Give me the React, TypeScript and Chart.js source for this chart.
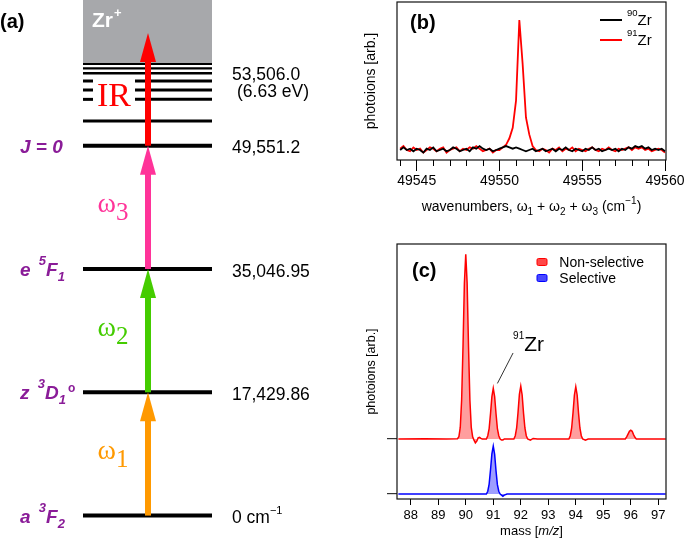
import React, { useEffect, useRef } from 'react';
import { Chart, registerables } from 'chart.js';

Chart.register(...registerables);

const SANS = '"Liberation Sans", Arial, Helvetica, sans-serif';
const SERIF = '"Liberation Serif", "Times New Roman", Times, serif';
const PURPLE = '#8a1c98';
Chart.defaults.font.family = SANS;
Chart.defaults.color = '#000';

/* ---------------- panel (a): schematic energy-level diagram ---------------- */
// schematic (equally spaced) vertical positions of the levels
const levelPositions = [0, 1, 2, 3];
const levelEnergyLabels = ['0', '17,429.86', '35,046.95', '49,551.2'];
const levelNames: [string, string][][] = [
  [['a ', 'n'], ['3', 'sup'], ['F', 'n'], ['2', 'sub']],
  [['z ', 'n'], ['3', 'sup'], ['D', 'n'], ['1', 'sub'], ['o', 'deg']],
  [['e ', 'n'], ['5', 'sup'], ['F', 'n'], ['1', 'sub']],
  [['J = 0', 'n']],
];
const rydbergPositions = [3.2, 3.376, 3.452, 3.525, 3.588, 3.628];
const rydbergBroken = [false, true, true, true, false, false];
const rydbergWidths = [3, 3, 3, 3, 2.5, 2.2];
const ionizationLimit = 3.663;
const ionizationLabels = ['53,506.0', '(6.63 eV)'];
const transitionFrom = [0, 1, 2, 3];
const transitionTo = [1, 2, 3, 3.914];
const transitionColors = ['#ff9900', '#44cc00', '#ff3399', '#ff0000'];
const transitionSubscripts = ['1', '2', '3'];
const irLabelPosition = 3.322;
const diagramRange = [-0.198, 4.182];
const diagramWidth = 340;
const levelSpan = [83, 212];
const arrowX = 148;
const irGap = [93, 135];

/* ---------------- panel (b): spectroscopy scan ---------------- */
const wnStart = 49544.0;
const wnStep = 0.2;
const zr90 = [
  0.00, 0.02, 0.00, 0.01, -0.01, 0.01, 0.00, -0.02, 0.01, 0.00,
  0.02, -0.01, 0.00, 0.01, -0.01, 0.00, 0.02, 0.01, -0.01, 0.00,
  0.01, -0.01, 0.02, 0.01, 0.03, 0.01, 0.00, 0.01, -0.01, 0.00,
  0.01, 0.02, 0.03, 0.02, 0.01, 0.02, 0.01, 0.00, -0.01, 0.00,
  0.01, -0.01, 0.00, 0.01, -0.01, 0.00, 0.01, -0.01, 0.01, 0.00,
  0.02, 0.00, -0.01, 0.01, 0.00, -0.01, 0.01, 0.00, 0.02, 0.00,
  0.01, -0.01, 0.00, 0.01, 0.00, 0.01, -0.01, 0.01, 0.00, 0.02,
  0.01, 0.03, 0.02, 0.03, 0.01, 0.02, 0.00, 0.01, 0.00, 0.01,
  -0.01,
];
const zr91 = [
  0.01, 0.03, 0.00, -0.01, 0.02, 0.00, 0.01, -0.02, 0.00, 0.02,
  0.01, -0.01, 0.01, 0.02, -0.02, 0.00, 0.01, 0.02, -0.01, 0.01,
  0.00, 0.02, 0.01, 0.03, 0.01, -0.01, 0.00, 0.01, -0.02, 0.00,
  0.00, 0.02, 0.04, 0.09, 0.17, 0.38, 1.00, 0.66, 0.25, 0.12,
  0.03, 0.00, -0.01, 0.01, 0.00, -0.02, 0.01, 0.00, 0.02, -0.01,
  0.01, 0.00, 0.02, -0.01, 0.01, 0.00, -0.01, 0.01, 0.02, 0.00,
  -0.01, 0.01, 0.00, 0.02, 0.00, -0.01, 0.01, 0.00, 0.01, 0.02,
  0.00, 0.02, 0.01, 0.02, 0.00, 0.01, -0.01, 0.00, 0.01, 0.00,
  -0.02,
];
const wavenumbers = zr90.map((_, i) => +(wnStart + i * wnStep).toFixed(2));
const wnRange = [49543.81, 49560.06];
const wnMajorStep = 5;
const isotopeLegend = ['90', '91'];
const scanColors = ['#000000', '#ff0000'];

/* ---------------- panel (c): mass spectra ---------------- */
const masses = [
  87.55, 88.5, 89.3, 89.7, 89.75, 89.8, 89.85, 89.9, 89.95, 90.0,
  90.05, 90.1, 90.15, 90.2, 90.25, 90.3, 90.35, 90.4, 90.45, 90.5,
  90.55, 90.6, 90.75, 90.8, 90.85, 90.9, 90.95, 91.0, 91.05, 91.1,
  91.15, 91.2, 91.25, 91.3, 91.35, 91.4, 91.5, 91.75, 91.8, 91.85,
  91.9, 91.95, 92.0, 92.05, 92.1, 92.15, 92.2, 92.25, 92.35, 92.45,
  92.6, 93.75, 93.8, 93.85, 93.9, 93.95, 94.0, 94.05, 94.1, 94.15,
  94.2, 94.25, 94.35, 94.45, 95.8, 95.85, 95.9, 95.95, 96.0, 96.05,
  96.1, 96.15, 96.2, 97.27,
];
const nonSelective = [
  0, 0.005, 0, 0.005, 0.04, 0.21, 0.71, 1.68, 2.83, 3.36,
  2.83, 1.68, 0.71, 0.21, 0.04, -0.02, -0.07, -0.04, 0.02, 0.03,
  0.01, 0, 0, 0.06, 0.19, 0.46, 0.77, 0.92, 0.77, 0.46,
  0.19, 0.06, 0, -0.02, -0.02, 0, 0, 0, 0.06, 0.2,
  0.48, 0.81, 0.96, 0.8, 0.47, 0.2, 0.06, 0, -0.02, 0.01,
  0, 0, 0.06, 0.2, 0.48, 0.8, 0.95, 0.8, 0.47, 0.2,
  0.06, 0, -0.02, 0, 0, 0.04, 0.09, 0.14, 0.16, 0.14,
  0.08, 0.03, 0, 0,
];
const selective = [
  0, 0, 0, 0, 0, 0, 0, 0, 0, 0,
  0, 0, 0, 0, 0, 0, 0, 0, 0, 0,
  0, 0, 0, 0.05, 0.18, 0.44, 0.73, 0.87, 0.72, 0.42,
  0.17, 0.05, 0, -0.02, -0.04, -0.02, 0, 0, 0, 0,
  0, 0, 0, 0, 0, 0, 0, 0, 0, 0,
  0, 0, 0, 0, 0, 0, 0, 0, 0, 0,
  0, 0, 0, 0, 0, 0, 0, 0, 0, 0,
  0, 0, 0, 0,
];
const redOffset = 1.0;
const massRange = [87.5, 97.28];
const spectraYRange = [-0.091, 4.545];
const spectraLegend = ['Non-selective', 'Selective'];
const spectraColors = ['#ff0000', '#0000ff'];
const spectraFills = ['rgba(255,0,0,0.38)', 'rgba(0,0,255,0.38)'];
const annotationAnchor = [91.72, 2.6];
const annotationTarget = [91.15, 2.01];

/* ---------------- helpers ---------------- */
type Seg = { t: string; f: string; dy?: number; dx?: number; c?: string };
function drawRich(ctx: CanvasRenderingContext2D, x: number, y: number, segs: Seg[], align: 'left' | 'center' = 'left', color = '#000') {
  ctx.save();
  ctx.textBaseline = 'alphabetic';
  ctx.textAlign = 'left';
  let w = 0;
  for (const s of segs) {
    ctx.font = s.f;
    w += ctx.measureText(s.t).width + (s.dx || 0);
  }
  let cx = align === 'center' ? x - w / 2 : x;
  for (const s of segs) {
    ctx.font = s.f;
    ctx.fillStyle = s.c || color;
    cx += s.dx || 0;
    ctx.fillText(s.t, cx, y + (s.dy || 0));
    cx += ctx.measureText(s.t).width;
  }
  ctx.restore();
}

function purpleSeg(t: string, k: string): Seg {
  if (k === 'sup') return { t, f: `italic bold 13px ${SANS}`, dy: -11, dx: 3 };
  if (k === 'sub') return { t, f: `italic bold 13px ${SANS}`, dy: 5 };
  if (k === 'deg') return { t, f: `bold 12px ${SANS}`, dy: -7, dx: 2 };
  return { t, f: `italic bold 19px ${SANS}` };
}

function drawFrame(chart: any) {
  const { ctx, chartArea: ca } = chart;
  ctx.save();
  ctx.strokeStyle = '#111';
  ctx.lineWidth = 1.2;
  ctx.strokeRect(ca.left, ca.top, ca.right - ca.left, ca.bottom - ca.top);
  ctx.restore();
}

function seg(x0: number, x1: number, y: number, color: string, width: number, order: number, extra: any = {}) {
  return {
    data: [{ x: x0, y }, { x: x1, y }],
    borderColor: color,
    borderWidth: width,
    pointRadius: 0,
    fill: false,
    borderCapStyle: 'butt',
    order,
    ...extra,
  };
}

/* ---------------- panel (a) ---------------- */
function panelADatasets() {
  const ds: any[] = [];
  const valuePerPx = (diagramRange[1] - diagramRange[0]) / 540;
  transitionFrom.forEach((from, i) => {
    ds.push({
      data: [{ x: arrowX, y: from }, { x: arrowX, y: transitionTo[i] - 26 * valuePerPx }],
      borderColor: transitionColors[i],
      borderWidth: 6,
      pointRadius: 0,
      fill: false,
      borderCapStyle: 'butt',
      order: 0,
    });
  });
  levelPositions.forEach((p) => ds.push(seg(levelSpan[0], levelSpan[1], p, '#000', 4, 1)));
  rydbergPositions.forEach((p, i) => {
    if (rydbergBroken[i]) {
      ds.push(seg(levelSpan[0], irGap[0], p, '#000', rydbergWidths[i], 1));
      ds.push(seg(irGap[1], levelSpan[1], p, '#000', rydbergWidths[i], 1));
    } else {
      ds.push(seg(levelSpan[0], levelSpan[1], p, '#000', rydbergWidths[i], 1));
    }
  });
  ds.push(seg(levelSpan[0], levelSpan[1], ionizationLimit, '#000', 2, 2, { fill: 'end', backgroundColor: '#a7a8ab' }));
  return ds;
}

const panelAPlugin = {
  id: 'panelA',
  afterDatasetsDraw(chart: any) {
    const { ctx, chartArea } = chart;
    const xs = chart.scales.x;
    const ys = chart.scales.y;
    const ax = xs.getPixelForValue(arrowX);
    transitionTo.forEach((to, i) => {
      const tip = ys.getPixelForValue(to);
      ctx.save();
      ctx.fillStyle = transitionColors[i];
      ctx.beginPath();
      ctx.moveTo(ax, tip);
      ctx.lineTo(ax - 8, tip + 29);
      ctx.lineTo(ax + 8, tip + 29);
      ctx.closePath();
      ctx.fill();
      ctx.restore();
    });
    drawRich(ctx, 0, 28, [{ t: '(a)', f: `bold 20px ${SANS}` }]);
    const left = xs.getPixelForValue(levelSpan[0]);
    drawRich(ctx, left + 9, chartArea.top + 27, [
      { t: 'Zr', f: `bold 21px ${SANS}` },
      { t: '+', f: `bold 13px ${SANS}`, dy: -10, dx: 1 },
    ], 'left', '#fff');
    const rx = xs.getPixelForValue(levelSpan[1]) + 20;
    levelPositions.forEach((p, i) => {
      const py = ys.getPixelForValue(p);
      drawRich(ctx, 20, py + 7, levelNames[i].map(([t, k]) => purpleSeg(t, k)), 'left', PURPLE);
      const segs: Seg[] = [{ t: levelEnergyLabels[i], f: `17.5px ${SANS}` }];
      if (i === 0) {
        segs.push({ t: ' cm', f: `17.5px ${SANS}` });
        segs.push({ t: '−1', f: `11px ${SANS}`, dy: -9 });
      }
      drawRich(ctx, rx, py + 7.5, segs);
    });
    const iy = ys.getPixelForValue(ionizationLimit);
    drawRich(ctx, rx, iy + 16, [{ t: ionizationLabels[0], f: `17.5px ${SANS}` }]);
    drawRich(ctx, rx + 5, iy + 33, [{ t: ionizationLabels[1], f: `17.5px ${SANS}` }]);
    transitionSubscripts.forEach((sub, i) => {
      const mid = (ys.getPixelForValue(transitionFrom[i]) + ys.getPixelForValue(transitionTo[i])) / 2;
      drawRich(ctx, ax - 35, mid + 5, [
        { t: 'ω', f: `28px ${SERIF}` },
        { t: sub, f: `25px ${SERIF}`, dy: 8 },
      ], 'center', transitionColors[i]);
    });
    const gx = (xs.getPixelForValue(irGap[0]) + xs.getPixelForValue(irGap[1])) / 2;
    drawRich(ctx, gx, ys.getPixelForValue(irLabelPosition), [{ t: 'IR', f: `34px ${SERIF}` }], 'center', transitionColors[3]);
  },
};

function configA(): any {
  return {
    type: 'line',
    data: { datasets: panelADatasets() },
    options: {
      responsive: false,
      animation: false,
      events: [],
      layout: { padding: 0 },
      plugins: { legend: { display: false }, tooltip: { enabled: false } },
      elements: { point: { radius: 0 }, line: { tension: 0 } },
      scales: {
        x: { type: 'linear', display: false, min: 0, max: diagramWidth },
        y: { type: 'linear', display: false, min: diagramRange[0], max: diagramRange[1] },
      },
    },
    plugins: [panelAPlugin],
  };
}

/* ---------------- panel (b) ---------------- */
const panelBPlugin = {
  id: 'panelB',
  afterDraw(chart: any) {
    const { ctx, chartArea: ca } = chart;
    const xs = chart.scales.x;
    drawFrame(chart);
    ctx.save();
    ctx.strokeStyle = '#000';
    ctx.lineWidth = 1;
    for (let v = Math.ceil(wnRange[0]); v <= wnRange[1]; v += 1) {
      if (v % wnMajorStep === 0) continue;
      const px = Math.round(xs.getPixelForValue(v)) + 0.5;
      ctx.beginPath();
      ctx.moveTo(px, ca.bottom);
      ctx.lineTo(px, ca.bottom + 6);
      ctx.stroke();
    }
    // legend
    isotopeLegend.forEach((iso, i) => {
      const ly = ca.top + 18 + i * 20;
      ctx.strokeStyle = scanColors[i];
      ctx.lineWidth = 2;
      ctx.beginPath();
      ctx.moveTo(ca.right - 66, ly);
      ctx.lineTo(ca.right - 44, ly);
      ctx.stroke();
      drawRich(ctx, ca.right - 39, ly + 5, [
        { t: iso, f: `9.5px ${SANS}`, dy: -9 },
        { t: 'Zr', f: `15px ${SANS}` },
      ]);
    });
    ctx.restore();
    drawRich(ctx, ca.left + 13, 28.5, [{ t: '(b)', f: `bold 20px ${SANS}` }]);
    const f = `14px ${SANS}`;
    const fs = `10px ${SANS}`;
    drawRich(ctx, (ca.left + ca.right) / 2, 211, [
      { t: 'wavenumbers, ω', f },
      { t: '1', f: fs, dy: 4 },
      { t: ' + ω', f },
      { t: '2', f: fs, dy: 4 },
      { t: ' + ω', f },
      { t: '3', f: fs, dy: 4 },
      { t: ' (cm', f },
      { t: '−1', f: fs, dy: -7 },
      { t: ')', f },
    ], 'center');
  },
};

function configB(): any {
  return {
    type: 'line',
    data: {
      datasets: [
        { label: '90Zr', data: wavenumbers.map((x, i) => ({ x, y: zr90[i] })), borderColor: scanColors[0], borderWidth: 1.8 },
        { label: '91Zr', data: wavenumbers.map((x, i) => ({ x, y: zr91[i] })), borderColor: scanColors[1], borderWidth: 1.8 },
      ],
    },
    options: {
      responsive: false,
      animation: false,
      events: [],
      layout: { padding: { top: 2, right: 19, left: 0, bottom: 0 } },
      plugins: { legend: { display: false }, tooltip: { enabled: false } },
      elements: { point: { radius: 0 }, line: { tension: 0 } },
      scales: {
        x: {
          type: 'linear',
          min: wnRange[0],
          max: wnRange[1],
          border: { display: false },
          grid: { drawOnChartArea: false, drawTicks: true, tickLength: 11, color: '#000', tickColor: '#000' },
          ticks: {
            stepSize: wnMajorStep,
            includeBounds: false,
            autoSkip: false,
            maxRotation: 0,
            padding: 2,
            color: '#000',
            font: { family: SANS, size: 14 },
            callback: (v: any) => String(v),
          },
          afterFit: (s: any) => { s.height = 60; s.paddingLeft = 0; s.paddingRight = 0; },
        },
        y: {
          type: 'linear',
          min: -0.077,
          max: 1.138,
          border: { display: false },
          grid: { display: false },
          ticks: { display: false },
          title: { display: true, text: 'photoions [arb.]', color: '#000', font: { family: SANS, size: 14 }, padding: { top: 23, bottom: 0 } },
          afterFit: (s: any) => { s.width = 57; },
        },
      },
    },
    plugins: [panelBPlugin],
  };
}

/* ---------------- panel (c) ---------------- */
const panelCPlugin = {
  id: 'panelC',
  afterDraw(chart: any) {
    const { ctx, chartArea: ca } = chart;
    const xs = chart.scales.x;
    const ys = chart.scales.y;
    drawFrame(chart);
    drawRich(ctx, ca.left + 15, ca.top + 32.7, [{ t: '(c)', f: `bold 20px ${SANS}` }]);
    spectraLegend.forEach((name, i) => {
      const cy = ca.top + 18 + i * 16;
      ctx.save();
      ctx.fillStyle = spectraColors[i] === '#ff0000' ? 'rgba(255,40,40,0.85)' : 'rgba(40,40,255,0.85)';
      ctx.strokeStyle = spectraColors[i];
      ctx.lineWidth = 1;
      ctx.beginPath();
      if ((ctx as any).roundRect) (ctx as any).roundRect(ca.left + 140, cy - 3.5, 10, 7, 1.5);
      else ctx.rect(ca.left + 140, cy - 3.5, 10, 7);
      ctx.fill();
      ctx.stroke();
      ctx.restore();
      drawRich(ctx, ca.left + 162.3, cy + 5, [{ t: name, f: `14px ${SANS}` }]);
    });
    const ax0 = xs.getPixelForValue(annotationAnchor[0]);
    const ay0 = ys.getPixelForValue(annotationAnchor[1]);
    drawRich(ctx, ax0, ay0, [
      { t: '91', f: `10px ${SANS}`, dy: -12 },
      { t: 'Zr', f: `21px ${SANS}` },
    ]);
    ctx.save();
    ctx.strokeStyle = '#333';
    ctx.lineWidth = 1;
    ctx.beginPath();
    ctx.moveTo(ax0, ay0 + 2);
    ctx.lineTo(xs.getPixelForValue(annotationTarget[0]), ys.getPixelForValue(annotationTarget[1]));
    ctx.stroke();
    ctx.restore();
    drawRich(ctx, (ca.left + ca.right) / 2, 315, [
      { t: 'mass [', f: `13px ${SANS}` },
      { t: 'm/z', f: `italic 13px ${SANS}` },
      { t: ']', f: `13px ${SANS}` },
    ], 'center');
  },
};

function configC(): any {
  return {
    type: 'line',
    data: {
      datasets: [
        {
          label: spectraLegend[0],
          data: masses.map((x, i) => ({ x, y: nonSelective[i] + redOffset })),
          borderColor: spectraColors[0],
          backgroundColor: spectraFills[0],
          borderWidth: 1.5,
          fill: { value: redOffset },
        },
        {
          label: spectraLegend[1],
          data: masses.map((x, i) => ({ x, y: selective[i] })),
          borderColor: spectraColors[1],
          backgroundColor: spectraFills[1],
          borderWidth: 1.5,
          fill: { value: 0 },
        },
      ],
    },
    options: {
      responsive: false,
      animation: false,
      events: [],
      layout: { padding: { top: 24, right: 19, left: 0, bottom: 0 } },
      plugins: { legend: { display: false }, tooltip: { enabled: false } },
      elements: { point: { radius: 0 }, line: { tension: 0 } },
      scales: {
        x: {
          type: 'linear',
          min: massRange[0],
          max: massRange[1],
          border: { display: false },
          grid: { drawOnChartArea: false, drawTicks: true, tickLength: 6, color: '#000', tickColor: '#000' },
          ticks: {
            stepSize: 1,
            includeBounds: false,
            autoSkip: false,
            maxRotation: 0,
            padding: 3,
            color: '#000',
            font: { family: SANS, size: 13 },
          },
          afterFit: (s: any) => { s.height = 41; s.paddingLeft = 0; s.paddingRight = 0; },
        },
        y: {
          type: 'linear',
          min: spectraYRange[0],
          max: spectraYRange[1],
          border: { display: false },
          grid: { drawOnChartArea: false, drawTicks: true, tickLength: 10, color: '#333', tickColor: '#333', lineWidth: 1.2 },
          ticks: { display: false },
          afterBuildTicks: (s: any) => { s.ticks = [{ value: 0 }, { value: redOffset }]; },
          title: { display: true, text: 'photoions [arb.]', color: '#000', font: { family: SANS, size: 12.5 }, padding: { top: 24, bottom: 0 } },
          afterFit: (s: any) => { s.width = 57; },
        },
      },
    },
    plugins: [panelCPlugin],
  };
}

export default function App() {
  const aRef = useRef<HTMLCanvasElement>(null);
  const bRef = useRef<HTMLCanvasElement>(null);
  const cRef = useRef<HTMLCanvasElement>(null);
  useEffect(() => {
    const charts = [
      new Chart(aRef.current as HTMLCanvasElement, configA()),
      new Chart(bRef.current as HTMLCanvasElement, configB()),
      new Chart(cRef.current as HTMLCanvasElement, configC()),
    ];
    return () => charts.forEach((c) => c.destroy());
  }, []);
  return (
    <div style={{ position: 'absolute', left: 0, top: 0, width: 685, height: 540, background: '#fff' }}>
      <canvas ref={aRef} width={340} height={540} style={{ position: 'absolute', left: 0, top: 0 }} />
      <canvas ref={bRef} width={345} height={220} style={{ position: 'absolute', left: 340, top: 0 }} />
      <canvas ref={cRef} width={345} height={320} style={{ position: 'absolute', left: 340, top: 220 }} />
    </div>
  );
}
